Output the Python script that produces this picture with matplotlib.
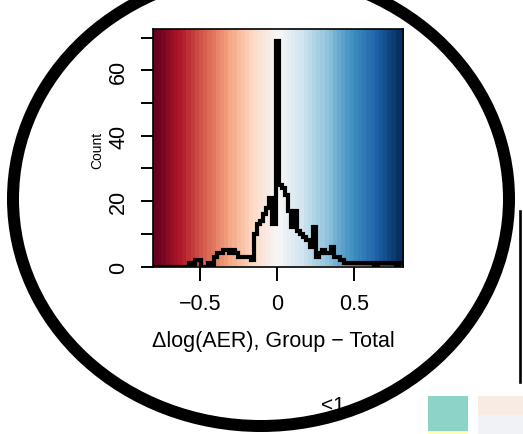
import matplotlib
matplotlib.use("Agg")
import matplotlib.pyplot as plt
from matplotlib.patches import Ellipse, Rectangle
from matplotlib.lines import Line2D
import numpy as np

plt.rcParams['font.family'] = ['Liberation Sans', 'DejaVu Sans']

# histogram of delta log(AER), bins of width 0.02 centred on -0.80 ... 0.80
bin_start = -0.81
bin_width = 0.02
counts = [0, 0, 0, 0, 0, 0, 0, 0, 0, 0, 0, 0,
          1, 0, 2, 2, 0, 0, 1, 0,
          3, 4, 4, 5, 5, 4, 5, 4, 3, 3,
          3, 3, 2, 10, 13, 14, 16, 18, 21, 13,
          69,
          25, 24, 22, 17, 12, 17, 11, 10, 9, 8,
          6, 12, 3, 4, 5, 4, 4, 6, 3, 3,
          2, 1, 1, 1, 1, 1, 1, 1, 1, 1,
          1, 0, 1, 1, 1, 1, 1, 1, 0, 1]
edges = bin_start + bin_width * np.arange(len(counts) + 1)

xticks = [-0.5, 0, 0.5]
xticklabels = ['\u22120.5', '0', '0.5']
yticks = [0, 10, 20, 30, 40, 50, 60, 70]
yticklabels = ['0', '', '20', '', '40', '', '60', '']
xlim = (-0.805, 0.815)
ylim = (0, 72.7)

W, H = 523, 435
fig = plt.figure(figsize=(W / 100, H / 100), dpi=100)

def fx(p):
    return p / W

def fy(p):
    return 1 - p / H

ax = fig.add_axes([fx(152.7), fy(267.5), (403 - 152.7) / W, (267.5 - 30) / H])

# red-white-blue background, white at zero
bands = np.linspace(xlim[0], xlim[1], 60)
ax.imshow(bands[None, :], extent=[xlim[0], xlim[1], ylim[0], ylim[1]],
          aspect='auto', cmap='RdBu', vmin=-0.8, vmax=0.8,
          interpolation='nearest', zorder=0)

ax.stairs(counts, edges, baseline=None, color='black', lw=3.0, zorder=3)

ax.set_xlim(*xlim)
ax.set_ylim(*ylim)
for s in ax.spines.values():
    s.set_linewidth(1.2)
    s.set_zorder(4)

ax.set_xticks(xticks)
ax.set_xticklabels(xticklabels, fontsize=15.5)
ax.set_yticks(yticks)
ax.set_yticklabels(yticklabels, fontsize=15.5, rotation=90, va='center')
ax.tick_params(axis='x', length=10, width=1.4, pad=9)
ax.tick_params(axis='y', length=9, width=1.4, pad=8)

fig.text(fx(97), fy(150), 'Count', rotation=90, fontsize=10,
         ha='center', va='center')
fig.text(fx(273.4), fy(347), '\u0394log(AER), Group \u2212 Total',
         fontsize=15.5, ha='center', va='baseline')

# pieces of the neighbouring panel
fig.text(fx(333), fy(406), '<1', fontsize=15, ha='center', va='center', zorder=2)
fig.add_artist(Line2D([fx(519.5)] * 2, [fy(212), fy(383)], lw=1.9, color='black'))
fig.add_artist(Rectangle((fx(428.3), fy(432)), 39.4 / W, 35 / H,
                         transform=fig.transFigure, fc='#8dd3c7', ec='none'))
fig.add_artist(Rectangle((fx(428.3), fy(435)), 39.4 / W, 3 / H,
                         transform=fig.transFigure, fc='#ffffb3', ec='none'))
fig.add_artist(Rectangle((fx(478.3), fy(416)), 45 / W, 19 / H,
                         transform=fig.transFigure, fc='#f8ebe4', ec='none'))
fig.add_artist(Rectangle((fx(478.3), fy(435)), 45 / W, 19 / H,
                         transform=fig.transFigure, fc='#f1f2f5', ec='none'))

# thick ring drawn around the panel
fig.add_artist(Ellipse((fx(261), fy(200)), 496 / W, 454 / H,
                       transform=fig.transFigure, fill=False,
                       ec='black', lw=12 * 0.72, zorder=10))

fig.savefig('out.png', dpi=100)
